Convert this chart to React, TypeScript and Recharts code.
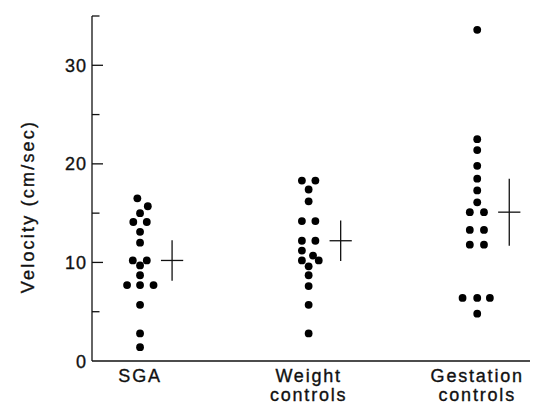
import { ScatterChart, Scatter, XAxis, YAxis, ReferenceLine, Label } from 'recharts';

const GROUP_LABELS = [['SGA'], ['Weight', 'controls'], ['Gestation', 'controls']];

// velocity values (cm/sec) per group, with the small sideways shift of each dot
const SGA_VALUES = [16.5, 15.7, 15.0, 14.1, 14.1, 13.1, 12.0, 10.2, 10.2, 9.7, 8.7, 7.7, 7.7, 7.7, 5.7, 2.8, 1.4];
const SGA_SHIFT = [-0.016, 0.046, 0, -0.04, 0.04, 0, 0, -0.043, 0.04, 0, 0, -0.077, 0, 0.08, 0, 0, 0];

const WEIGHT_VALUES = [18.3, 18.3, 17.4, 16.2, 14.2, 14.2, 12.2, 12.2, 11.2, 10.7, 10.2, 10.2, 9.6, 8.7, 7.6, 5.7, 2.8];
const WEIGHT_SHIFT = [-0.04, 0.04, 0, 0, -0.04, 0.04, -0.04, 0.04, -0.04, 0.026, -0.04, 0.06, 0, 0, 0, 0, 0];

const GESTATION_VALUES = [33.6, 22.5, 21.4, 19.8, 18.5, 17.3, 16.1, 15.1, 15.1, 13.3, 13.3, 11.8, 11.8, 6.4, 6.4, 6.4, 4.8];
const GESTATION_SHIFT = [0, 0, 0, 0, 0, 0, 0, -0.044, 0.04, -0.044, 0.04, -0.044, 0.04, -0.087, 0, 0.075, 0];

// mean and SD for each group
const MEANS = [10.2, 12.2, 15.1];
const SDS = [2.05, 2.05, 3.4];

const Y_TICKS = [0, 5, 10, 15, 20, 25, 30, 35];

const FONT = '"Liberation Sans", Arial, Helvetica, sans-serif';
const INK = '#111';

const groups = [
    { values: SGA_VALUES, shift: SGA_SHIFT },
    { values: WEIGHT_VALUES, shift: WEIGHT_SHIFT },
    { values: GESTATION_VALUES, shift: GESTATION_SHIFT },
];

const points = groups.flatMap((g, i) =>
    g.values.map((v, j) => ({ x: i + 1 + g.shift[j], y: v }))
);

const CROSS_OFFSET = 0.19;
const CROSS_HALF = 0.066;

const crossLines = MEANS.flatMap((m, i) => {
    const cx = i + 1 + CROSS_OFFSET;
    return [
        <ReferenceLine
            key={`v${i}`}
            segment={[{ x: cx, y: m - SDS[i] }, { x: cx, y: m + SDS[i] }]}
            stroke={INK}
            strokeWidth={1.3}
        />,
        <ReferenceLine
            key={`h${i}`}
            segment={[{ x: cx - CROSS_HALF, y: m }, { x: cx + CROSS_HALF, y: m }]}
            stroke={INK}
            strokeWidth={1.3}
        />,
    ];
});

const TICK_GAP = 4;

function YTick(props: any) {
    const { x, y, payload } = props;
    const major = payload.value % 10 === 0;
    const ax = x + TICK_GAP;
    return (
        <g>
            {payload.value > 0 && (
                <line x1={ax} x2={ax + (major ? 11 : 7.5)} y1={y} y2={y} stroke={INK} strokeWidth={1.3} />
            )}
            {major && (
                <text x={x - 1} y={y + 6.5} textAnchor="end" fontSize={18} fontFamily={FONT}
                    fill={INK} stroke={INK} strokeWidth={0.35} letterSpacing={1}>
                    {payload.value}
                </text>
            )}
        </g>
    );
}

function XTick(props: any) {
    const { x, y, payload } = props;
    const lines = GROUP_LABELS[Math.round(payload.value) - 1] || [];
    return (
        <text x={x} y={y} textAnchor="middle" fontSize={18} fontFamily={FONT}
            fill={INK} stroke={INK} strokeWidth={0.35} letterSpacing={1.8}>
            {lines.map((l, i) => (
                <tspan key={i} x={x} dy={i === 0 ? 21 : 18.5}>{l}</tspan>
            ))}
        </text>
    );
}

function YLabel(props: any) {
    const { viewBox } = props;
    const cy = viewBox.y + viewBox.height / 2 + 18;
    const cx = 34;
    return (
        <text
            x={cx}
            y={cy}
            transform={`rotate(-90, ${cx}, ${cy})`}
            textAnchor="middle"
            fontSize={18}
            fontFamily={FONT}
            fill={INK}
            stroke={INK}
            strokeWidth={0.35}
            letterSpacing={2.2}
        >
            Velocity (cm/sec)
        </text>
    );
}

export default function App() {
    return (
        <div style={{ position: 'absolute', left: 0, top: 0, width: 539, height: 403, background: '#fff' }}>
            <ScatterChart width={539} height={403} margin={{ top: 16, right: 9, bottom: 0, left: 0 }}>
                <XAxis
                    type="number"
                    dataKey="x"
                    domain={[0.715, 3.313]}
                    ticks={[1, 2, 3]}
                    allowDataOverflow
                    height={42}
                    tickSize={0}
                    tickMargin={0}
                    tickLine={false}
                    axisLine={{ stroke: INK, strokeWidth: 1.3 }}
                    tick={<XTick />}
                    interval={0}
                />
                <YAxis
                    type="number"
                    dataKey="y"
                    domain={[0, 35]}
                    ticks={Y_TICKS}
                    allowDataOverflow
                    width={92}
                    tickSize={0}
                    tickMargin={TICK_GAP}
                    tickLine={false}
                    axisLine={{ stroke: INK, strokeWidth: 1.3 }}
                    tick={<YTick />}
                    interval={0}
                >
                    <Label content={<YLabel />} />
                </YAxis>
                {crossLines}
                <Scatter
                    data={points}
                    isAnimationActive={false}
                    shape={(p: any) => <circle cx={p.cx} cy={p.cy} r={3.9} fill="#000" />}
                />
            </ScatterChart>
        </div>
    );
}
